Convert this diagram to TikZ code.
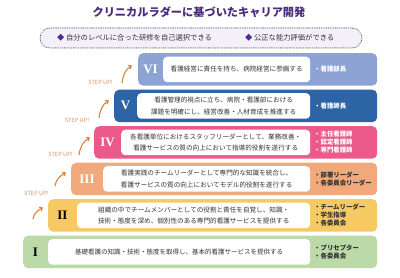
\documentclass[tikz,border=0pt]{standalone}
\usepackage{fontspec}
\setmainfont{Noto Sans CJK JP}
\newfontfamily\serifnum{Liberation Serif}
\usetikzlibrary{arrows.meta}
\definecolor{c6}{HTML}{8DA2D5}
\definecolor{c5}{HTML}{2C64A6}
\definecolor{c4}{HTML}{EC5A8C}
\definecolor{c3}{HTML}{F1A97C}
\definecolor{c2}{HTML}{F6C962}
\definecolor{c1}{HTML}{BCD9A8}
\definecolor{titlec}{HTML}{4A2C7E}
\definecolor{diac}{HTML}{5B2A8E}
\definecolor{lav}{HTML}{F4F0FA}
\definecolor{arrowc}{HTML}{D9843C}
\definecolor{stepc}{HTML}{D59460}
\definecolor{bodyc}{HTML}{333333}
\begin{document}
\begin{tikzpicture}[x=1pt,y=-1pt,
  band/.style={rounded corners=5pt, inner sep=0pt, anchor=north west, minimum height=32.5pt},
  wbox/.style={fill=white, rounded corners=4pt, inner sep=0pt, anchor=north west, minimum height=25.5pt,
    font=\fontsize{6.6}{11.5}\selectfont, text=bodyc, align=center},
  role/.style={font=\fontsize{6.4}{8}\selectfont\bfseries, align=left, anchor=west, inner sep=0pt},
  num/.style={font=\serifnum\bfseries\fontsize{13}{13}\selectfont, inner sep=0pt},
  stepl/.style={font=\fontsize{5.7}{6}\selectfont, text=stepc, inner sep=0pt},
  uparrow/.style={-{Straight Barb[length=2.6pt,width=4.4pt]}, draw=arrowc, line width=1.1pt}
]
\useasboundingbox (0,0) rectangle (400,278);

% title
\node[font=\bfseries\fontsize{11.2}{12}\selectfont, text=titlec] (title) at (199,12)
  {クリニカルラダーに基づいたキャリア開発};

% subtitle box
\node[draw=black!75, line width=1pt, dash pattern=on 0.1pt off 1.7pt, line cap=round,
  fill=lav, rounded corners=10pt, minimum width=322pt, minimum height=20pt, inner sep=0pt] (sub) at (201,38) {};
\node[anchor=west, font=\fontsize{7.3}{8}\selectfont, text=bodyc, inner sep=0pt] (s1) at (57,38)
  {\textcolor{diac}{◆} 自分のレベルに合った研修を自己選択できる};
\node[anchor=west, font=\fontsize{7.3}{8}\selectfont, text=bodyc, inner sep=0pt] (s2) at (245,38)
  {\textcolor{diac}{◆} 公正な能力評価ができる};

% level VI
\node[band, fill=c6, minimum width=239pt] (b6) at (138,53) {};
\node[wbox, minimum width=147pt] (w6) at (163,56.5) {看護経営に責任を持ち、病院経営に参画する};
\node[num, text=white] (n6) at (150.5,69.25) {VI};
\node[role, text=white] (r6) at (314,69.25) {・看護部長};

% level V
\node[band, fill=c5, minimum width=263pt] (b5) at (114,89.5) {};
\node[wbox, minimum width=173pt] (w5) at (137,93) {看護管理的視点に立ち、病院・看護部における\\課題を明確にし、経営改善・人材育成を推進する};
\node[num, text=white] (n5) at (125.5,105.75) {V};
\node[role, text=white] (r5) at (314,105.75) {・看護師長};

% level IV
\node[band, fill=c4, minimum width=283pt] (b4) at (94,126) {};
\node[wbox, minimum width=189pt] (w4) at (121,129.5) {各看護単位におけるスタッフリーダーとして、業務改善・\\看護サービスの質の向上において指導的役割を遂行する};
\node[num, text=white] (n4) at (107.5,142.25) {IV};
\node[role, text=white] (r4) at (314,142.25) {・主任看護師\\・認定看護師\\・専門看護師};

% level III
\node[band, fill=c3, minimum width=306pt] (b3) at (71,162.5) {};
\node[wbox, minimum width=207pt] (w3) at (103,166) {看護実践のチームリーダーとして専門的な知識を統合し、\\看護サービスの質の向上においてモデル的役割を遂行する};
\node[num, text=white] (n3) at (87,178.75) {III};
\node[role, text=bodyc] (r3) at (314,178.75) {・部署リーダー\\・各委員会リーダー};

% level II
\node[band, fill=c2, minimum width=329pt] (b2) at (48,199) {};
\node[wbox, minimum width=233pt] (w2) at (77,202.5) {組織の中でチームメンバーとしての役割と責任を自覚し、知識・\\技術・態度を深め、個別性のある専門的看護サービスを提供する};
\node[num, text=black] (n2) at (62.5,215.25) {II};
\node[role, text=bodyc] (r2) at (314,215.25) {・チームリーダー\\・学生指導\\・各委員会};

% level I
\node[band, fill=c1, minimum width=354pt] (b1) at (23,235.5) {};
\node[wbox, minimum width=262pt, font=\fontsize{6.5}{11.5}\selectfont] (w1) at (48,239) {基礎看護の知識・技術・態度を取得し、基本的看護サービスを提供する};
\node[num, text=black] (n1) at (35.5,251.75) {I};
\node[role, text=bodyc] (r1) at (314,251.75) {・プリセプター\\・各委員会};

% step-up arrows
\coordinate (a6s) at (122,83);  \coordinate (a6e) at (132,65.5);
\coordinate (a5s) at (99,118);  \coordinate (a5e) at (109,100.5);
\coordinate (a4s) at (79,155);  \coordinate (a4e) at (90,137.5);
\coordinate (a3s) at (55,186);  \coordinate (a3e) at (66,172.5);
\coordinate (a2s) at (33,219);  \coordinate (a2e) at (43,207.5);
\foreach \k in {6,5,4,3,2}{
  \draw[uparrow] (a\k s) to[out=82,in=210] (a\k e);
}
\node[stepl] (t6) at (100.5,82) {STEP UP!};
\node[stepl] (t5) at (77,120) {STEP UP!};
\node[stepl] (t4) at (60.5,154.5) {STEP UP!};
\node[stepl] (t3) at (36.5,193) {STEP UP!};
\end{tikzpicture}
\end{document}
